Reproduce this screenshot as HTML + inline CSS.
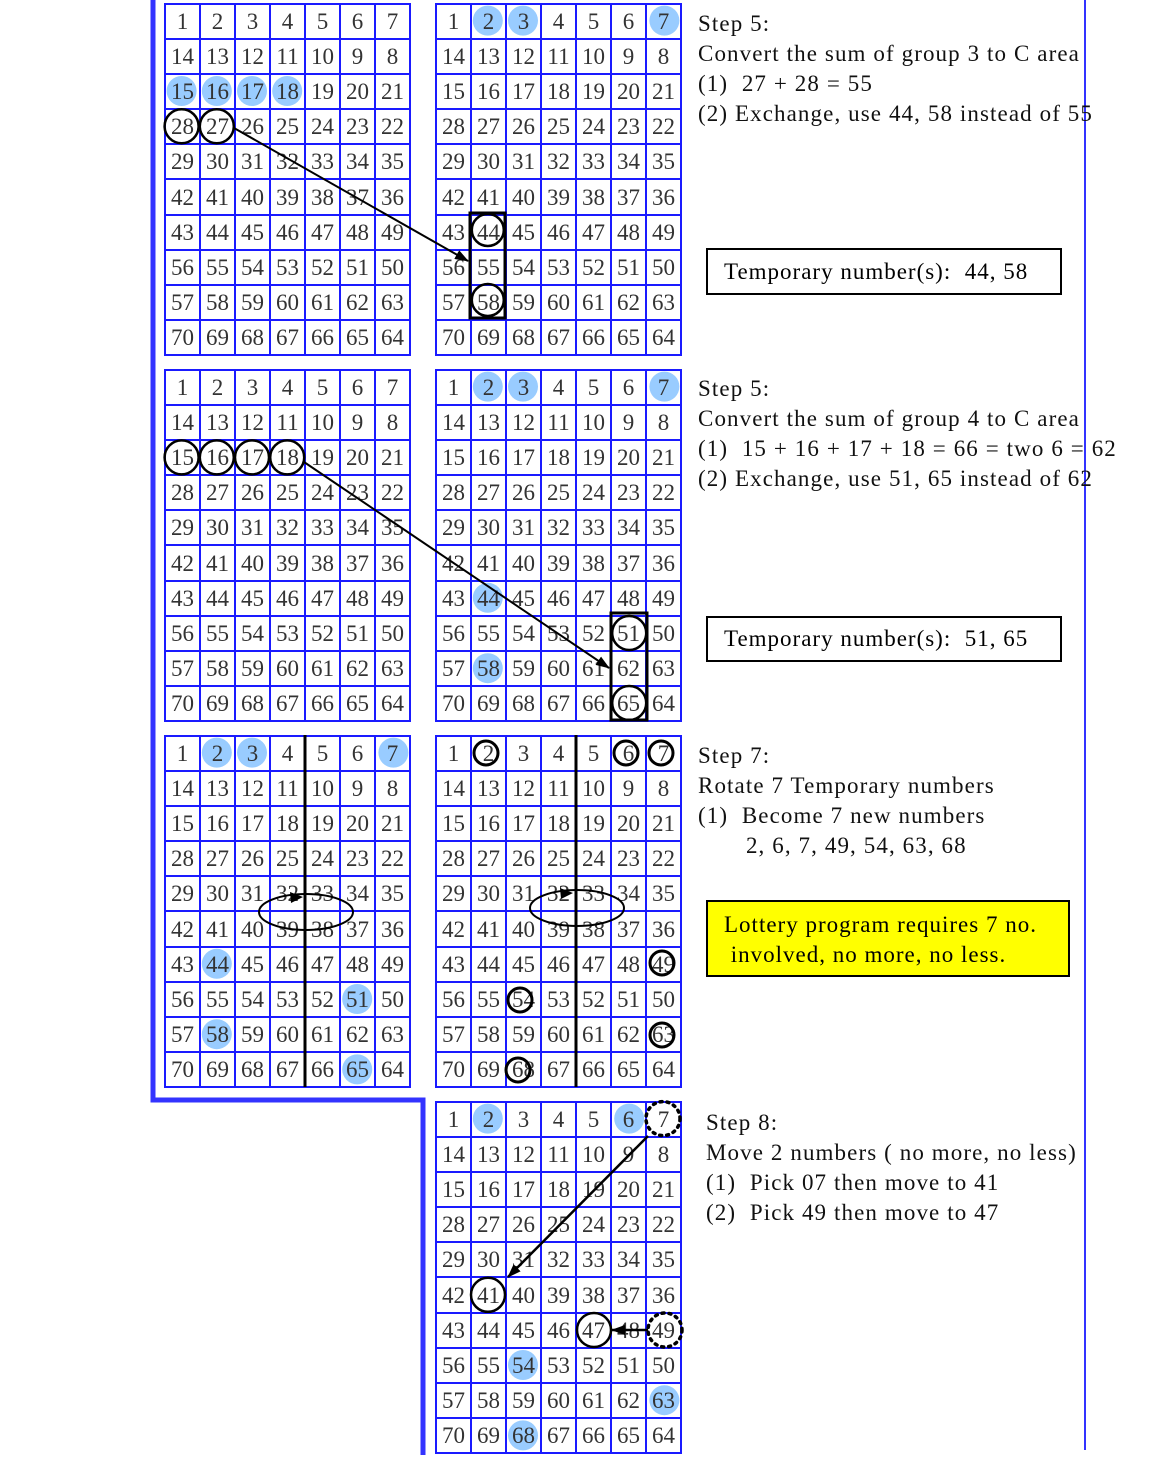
<!DOCTYPE html>
<html><head><meta charset="utf-8"><style>
body{margin:0;width:1154px;height:1458px;position:relative;background:#fff;overflow:hidden}
table{position:absolute;border-collapse:collapse;width:247px;height:353px;table-layout:fixed}
td{border:2px solid #1a1aff;text-align:center;vertical-align:middle;font:23px "Liberation Serif",serif;color:#333;padding:0;line-height:1}
.t{position:absolute;font:23px "Liberation Serif",serif;color:#111;white-space:nowrap;line-height:30px;letter-spacing:1.1px}
.box{position:absolute;border:2px solid #000;font:23px "Liberation Serif",serif;box-sizing:border-box;padding-left:16px;letter-spacing:1px;white-space:nowrap}
svg{position:absolute;left:0;top:0}
</style></head><body>
<svg width="1154" height="1458">
<g fill="#99ccff">
<circle cx="181.6" cy="91" r="15"/><circle cx="216.8" cy="91" r="15"/><circle cx="252" cy="91" r="15"/><circle cx="287.2" cy="91" r="15"/>
<circle cx="487.8" cy="20.6" r="15"/><circle cx="523" cy="20.6" r="15"/><circle cx="664.4" cy="20.6" r="15"/>
<circle cx="487.8" cy="386.6" r="15"/><circle cx="523" cy="386.6" r="15"/><circle cx="664.4" cy="386.6" r="15"/><circle cx="487.8" cy="597.8" r="15"/><circle cx="487.8" cy="668.2" r="15"/>
<circle cx="216.8" cy="752.6" r="15"/><circle cx="252" cy="752.6" r="15"/><circle cx="393.4" cy="752.6" r="15"/><circle cx="216.8" cy="963.8" r="15"/><circle cx="357.2" cy="999" r="15"/><circle cx="216.8" cy="1034.2" r="15"/><circle cx="357.2" cy="1069.4" r="15"/>
<circle cx="487.8" cy="1118.6" r="15"/><circle cx="629.2" cy="1118.6" r="15"/><circle cx="523" cy="1365" r="15"/><circle cx="664.4" cy="1400.2" r="15"/><circle cx="523" cy="1435.4" r="15"/>
</g>
</svg>

<table style="left:164px;top:3px"><tr><td>1<td>2<td>3<td>4<td>5<td>6<td>7<tr><td>14<td>13<td>12<td>11<td>10<td>9<td>8<tr><td>15<td>16<td>17<td>18<td>19<td>20<td>21<tr><td>28<td>27<td>26<td>25<td>24<td>23<td>22<tr><td>29<td>30<td>31<td>32<td>33<td>34<td>35<tr><td>42<td>41<td>40<td>39<td>38<td>37<td>36<tr><td>43<td>44<td>45<td>46<td>47<td>48<td>49<tr><td>56<td>55<td>54<td>53<td>52<td>51<td>50<tr><td>57<td>58<td>59<td>60<td>61<td>62<td>63<tr><td>70<td>69<td>68<td>67<td>66<td>65<td>64</table>
<table style="left:435px;top:3px"><tr><td>1<td>2<td>3<td>4<td>5<td>6<td>7<tr><td>14<td>13<td>12<td>11<td>10<td>9<td>8<tr><td>15<td>16<td>17<td>18<td>19<td>20<td>21<tr><td>28<td>27<td>26<td>25<td>24<td>23<td>22<tr><td>29<td>30<td>31<td>32<td>33<td>34<td>35<tr><td>42<td>41<td>40<td>39<td>38<td>37<td>36<tr><td>43<td>44<td>45<td>46<td>47<td>48<td>49<tr><td>56<td>55<td>54<td>53<td>52<td>51<td>50<tr><td>57<td>58<td>59<td>60<td>61<td>62<td>63<tr><td>70<td>69<td>68<td>67<td>66<td>65<td>64</table>
<table style="left:164px;top:369px"><tr><td>1<td>2<td>3<td>4<td>5<td>6<td>7<tr><td>14<td>13<td>12<td>11<td>10<td>9<td>8<tr><td>15<td>16<td>17<td>18<td>19<td>20<td>21<tr><td>28<td>27<td>26<td>25<td>24<td>23<td>22<tr><td>29<td>30<td>31<td>32<td>33<td>34<td>35<tr><td>42<td>41<td>40<td>39<td>38<td>37<td>36<tr><td>43<td>44<td>45<td>46<td>47<td>48<td>49<tr><td>56<td>55<td>54<td>53<td>52<td>51<td>50<tr><td>57<td>58<td>59<td>60<td>61<td>62<td>63<tr><td>70<td>69<td>68<td>67<td>66<td>65<td>64</table>
<table style="left:435px;top:369px"><tr><td>1<td>2<td>3<td>4<td>5<td>6<td>7<tr><td>14<td>13<td>12<td>11<td>10<td>9<td>8<tr><td>15<td>16<td>17<td>18<td>19<td>20<td>21<tr><td>28<td>27<td>26<td>25<td>24<td>23<td>22<tr><td>29<td>30<td>31<td>32<td>33<td>34<td>35<tr><td>42<td>41<td>40<td>39<td>38<td>37<td>36<tr><td>43<td>44<td>45<td>46<td>47<td>48<td>49<tr><td>56<td>55<td>54<td>53<td>52<td>51<td>50<tr><td>57<td>58<td>59<td>60<td>61<td>62<td>63<tr><td>70<td>69<td>68<td>67<td>66<td>65<td>64</table>
<table style="left:164px;top:735px"><tr><td>1<td>2<td>3<td>4<td>5<td>6<td>7<tr><td>14<td>13<td>12<td>11<td>10<td>9<td>8<tr><td>15<td>16<td>17<td>18<td>19<td>20<td>21<tr><td>28<td>27<td>26<td>25<td>24<td>23<td>22<tr><td>29<td>30<td>31<td>32<td>33<td>34<td>35<tr><td>42<td>41<td>40<td>39<td>38<td>37<td>36<tr><td>43<td>44<td>45<td>46<td>47<td>48<td>49<tr><td>56<td>55<td>54<td>53<td>52<td>51<td>50<tr><td>57<td>58<td>59<td>60<td>61<td>62<td>63<tr><td>70<td>69<td>68<td>67<td>66<td>65<td>64</table>
<table style="left:435px;top:735px"><tr><td>1<td>2<td>3<td>4<td>5<td>6<td>7<tr><td>14<td>13<td>12<td>11<td>10<td>9<td>8<tr><td>15<td>16<td>17<td>18<td>19<td>20<td>21<tr><td>28<td>27<td>26<td>25<td>24<td>23<td>22<tr><td>29<td>30<td>31<td>32<td>33<td>34<td>35<tr><td>42<td>41<td>40<td>39<td>38<td>37<td>36<tr><td>43<td>44<td>45<td>46<td>47<td>48<td>49<tr><td>56<td>55<td>54<td>53<td>52<td>51<td>50<tr><td>57<td>58<td>59<td>60<td>61<td>62<td>63<tr><td>70<td>69<td>68<td>67<td>66<td>65<td>64</table>
<table style="left:435px;top:1101px"><tr><td>1<td>2<td>3<td>4<td>5<td>6<td>7<tr><td>14<td>13<td>12<td>11<td>10<td>9<td>8<tr><td>15<td>16<td>17<td>18<td>19<td>20<td>21<tr><td>28<td>27<td>26<td>25<td>24<td>23<td>22<tr><td>29<td>30<td>31<td>32<td>33<td>34<td>35<tr><td>42<td>41<td>40<td>39<td>38<td>37<td>36<tr><td>43<td>44<td>45<td>46<td>47<td>48<td>49<tr><td>56<td>55<td>54<td>53<td>52<td>51<td>50<tr><td>57<td>58<td>59<td>60<td>61<td>62<td>63<tr><td>70<td>69<td>68<td>67<td>66<td>65<td>64</table>

<svg width="1154" height="1458">
<defs><marker id="b" markerWidth="14" markerHeight="10" refX="13" refY="5" orient="auto" markerUnits="userSpaceOnUse"><path d="M0,0 L14,5 L0,10 z" fill="#000"/></marker></defs>
<g fill="none" stroke="#3333ff"><path d="M153,0 V1100 H423 V1455" stroke-width="5"/><path d="M1085,0 V1450" stroke-width="2"/></g>
<g fill="none" stroke="#000" stroke-width="2.5">
<circle cx="181.6" cy="126.2" r="17"/><circle cx="216.8" cy="126.2" r="17"/>
<line x1="234" y1="128" x2="468" y2="261" stroke-width="2" marker-end="url(#b)"/>
<rect x="470" y="213" width="35" height="105" stroke-width="3"/>
<circle cx="487.8" cy="230" r="16"/><circle cx="487.8" cy="300" r="16"/>
<circle cx="181.6" cy="457.4" r="17"/><circle cx="216.8" cy="457.4" r="17"/><circle cx="252" cy="457.4" r="17"/><circle cx="287.2" cy="457.4" r="17"/>
<line x1="304" y1="462" x2="609" y2="668" stroke-width="2" marker-end="url(#b)"/>
<rect x="611" y="613" width="36" height="107" stroke-width="3"/>
<circle cx="629.2" cy="633" r="17"/><circle cx="629.2" cy="703" r="17"/>
<line x1="305" y1="735" x2="305" y2="1087" stroke-width="3"/>
<ellipse cx="306" cy="912" rx="47" ry="18" stroke-width="2"/>
<path d="M290,892 l13,5 l-12,6z" fill="#000" stroke="none"/>
<line x1="576" y1="735" x2="576" y2="1087" stroke-width="3"/>
<ellipse cx="577" cy="908" rx="47" ry="18" stroke-width="2"/>
<path d="M560,888 l13,5 l-12,6z" fill="#000" stroke="none"/>
<g stroke-width="3"><circle cx="486" cy="753" r="12"/><circle cx="626" cy="753" r="12"/><circle cx="661" cy="753" r="12"/><circle cx="662" cy="963" r="12"/><circle cx="520" cy="1000" r="12"/><circle cx="662" cy="1035" r="12"/><circle cx="518" cy="1070" r="12"/></g>
<circle cx="663" cy="1118.6" r="17" stroke-width="3.5" stroke-dasharray="2 5" stroke-linecap="round"/>
<circle cx="665" cy="1330" r="17" stroke-width="3.5" stroke-dasharray="2 5" stroke-linecap="round"/>
<circle cx="488" cy="1294.8" r="17"/><circle cx="594" cy="1330" r="17"/>
<line x1="648" y1="1136" x2="508" y2="1277" stroke-width="2.5" marker-end="url(#b)"/>
<line x1="648" y1="1330" x2="612" y2="1330" stroke-width="2.5" marker-end="url(#b)"/>
</g>
</svg>

<div class="t" style="left:698px;top:9px">Step 5:<br>Convert the sum of group 3 to C area<br>(1)&nbsp; 27 + 28 = 55<br>(2) Exchange, use 44, 58 instead of 55</div>
<div class="box" style="left:706px;top:248px;width:356px;height:47px;line-height:43px">Temporary number(s):&nbsp; 44, 58</div>
<div class="t" style="left:698px;top:374px">Step 5:<br>Convert the sum of group 4 to C area<br>(1)&nbsp; 15 + 16 + 17 + 18 = 66 = two 6 = 62<br>(2) Exchange, use 51, 65 instead of 62</div>
<div class="box" style="left:706px;top:616px;width:356px;height:46px;line-height:42px">Temporary number(s):&nbsp; 51, 65</div>
<div class="t" style="left:698px;top:741px">Step 7:<br>Rotate 7 Temporary numbers<br>(1)&nbsp; Become 7 new numbers<br>&nbsp;&nbsp;&nbsp;&nbsp;&nbsp;&nbsp; 2, 6, 7, 49, 54, 63, 68</div>
<div class="box" style="left:706px;top:900px;width:364px;height:77px;background:#ffff00;line-height:30px;padding-top:8px">Lottery program requires 7 no.<br>&nbsp;involved, no more, no less.</div>
<div class="t" style="left:706px;top:1108px">Step 8:<br>Move 2 numbers ( no more, no less)<br>(1)&nbsp; Pick 07 then move to 41<br>(2)&nbsp; Pick 49 then move to 47</div>
</body></html>
